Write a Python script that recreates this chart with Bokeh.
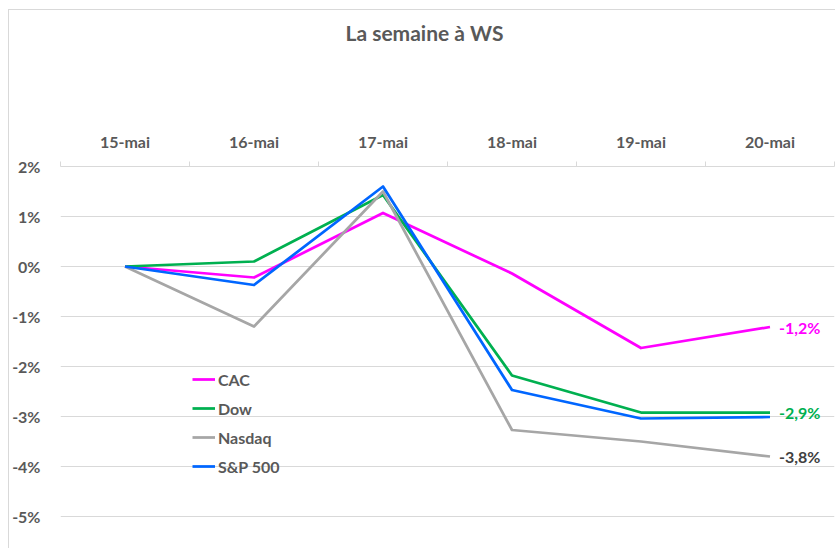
from bokeh.plotting import figure
from bokeh.models import Range1d, FixedTicker, Legend, LegendItem, Title, LinearAxis
from bokeh.embed import file_html
from bokeh.resources import INLINE

dates = ["15-mai", "16-mai", "17-mai", "18-mai", "19-mai", "20-mai"]
cac = [0.0, -0.22, 1.07, -0.14, -1.63, -1.21]
dow = [0.0, 0.10, 1.43, -2.18, -2.92, -2.92]
nasdaq = [0.0, -1.20, 1.50, -3.27, -3.50, -3.80]
sp500 = [0.0, -0.37, 1.60, -2.47, -3.04, -3.01]
y_ticks = [2, 1, 0, -1, -2, -3, -4, -5]

series = [
    ("CAC", cac, "#FF00FF", "#FF00FF", True),
    ("Dow", dow, "#00B050", "#00B050", True),
    ("Nasdaq", nasdaq, "#A6A6A6", "#404040", True),
    ("S&P 500", sp500, "#0066FF", None, False),
]

FONT = "Lato"
TXT = "#595959"
GRID = "#D9D9D9"

xs = [i + 0.5 for i in range(len(dates))]

p = figure(width=827, height=539, output_backend="svg", toolbar_location=None,
           x_range=Range1d(0, len(dates)), y_range=Range1d(-5.02, 2),
           min_border_left=51, min_border_right=2, min_border_top=156, min_border_bottom=32,
           title=None)
p.margin = (9, 0, 0, 8)
p.styles = {"border-left": "1px solid #D9D9D9", "border-top": "1px solid #D9D9D9"}
p.outline_line_color = None
p.background_fill_color = "white"
p.border_fill_color = "white"
p.xaxis.visible = False
p.yaxis.visible = False
p.xgrid.visible = False

# top category axis
xa = LinearAxis(ticker=FixedTicker(ticks=xs, minor_ticks=list(range(len(dates) + 1))),
                major_label_overrides={x: d for x, d in zip(xs, dates)})
xa.axis_line_color = GRID
xa.major_tick_line_color = None
xa.major_tick_out = 0
xa.major_tick_in = 0
xa.minor_tick_line_color = GRID
xa.minor_tick_out = 5
xa.minor_tick_in = 0
xa.major_label_standoff = 11
xa.major_label_text_font = FONT
xa.major_label_text_font_style = "bold"
xa.major_label_text_font_size = "16px"
xa.major_label_text_color = TXT
p.add_layout(xa, "above")

ya = LinearAxis(ticker=FixedTicker(ticks=y_ticks),
                major_label_overrides={t: f"{t}%" for t in y_ticks})
ya.axis_line_color = None
ya.major_tick_line_color = None
ya.minor_tick_line_color = None
ya.major_label_standoff = 14
ya.major_label_text_font = FONT
ya.major_label_text_font_style = "bold"
ya.major_label_text_font_size = "16px"
ya.major_label_text_color = TXT
p.add_layout(ya, "left")

p.ygrid.ticker = FixedTicker(ticks=y_ticks)
p.ygrid.grid_line_color = GRID
p.ygrid.grid_line_width = 1

items = []
for name, vals, col, lab_col, show in series:
    r = p.line(xs, vals, line_color=col, line_width=2.75, line_join="round")
    items.append(LegendItem(label=name, renderers=[r]))
    if show:
        last = vals[-1]
        lab = f"{last:.1f}%".replace(".", ",")
        p.text([xs[-1]], [last], text=[lab], x_offset=9, text_align="left",
               text_baseline="middle", text_color=lab_col, text_font_size="16px",
               text_font_style="bold", text_font={"value": FONT})

legend = Legend(items=items, location=(132, 41), orientation="vertical")
legend.background_fill_alpha = 0
legend.border_line_color = None
legend.padding = 0
legend.margin = 0
legend.spacing = 9
legend.glyph_width = 23
legend.glyph_height = 20
legend.label_height = 20
legend.label_standoff = 3
legend.label_text_font = FONT
legend.label_text_font_style = "bold"
legend.label_text_font_size = "16px"
legend.label_text_color = TXT
p.add_layout(legend, "center")

# spacer between the category axis and the title
spacer = Title(text=" ", text_font_size="1px", standoff=81)
p.add_layout(spacer, "above")
t = Title(text="La semaine à WS", align="left", offset=285, text_font=FONT,
          text_font_style="bold", text_font_size="21px", text_color=TXT, standoff=0)
p.add_layout(t, "above")

open("out.html", "w").write(file_html(p, INLINE))
